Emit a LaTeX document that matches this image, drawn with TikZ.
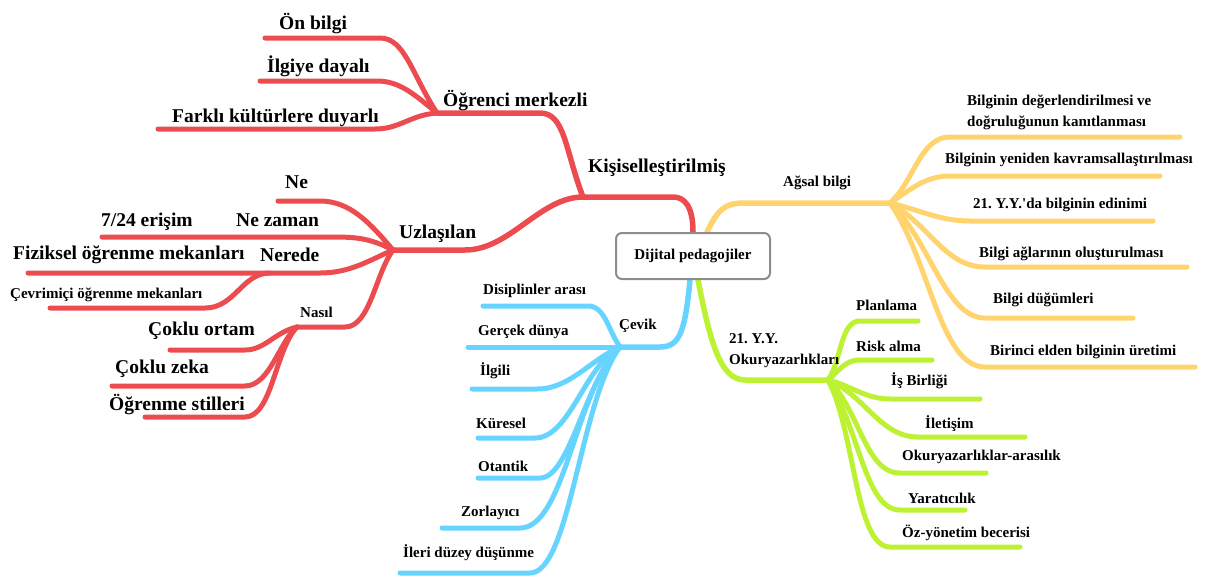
\documentclass[tikz,border=0pt]{standalone}
\usepackage{fontspec}
\setmainfont{Liberation Serif}
\usetikzlibrary{calc,backgrounds}
\definecolor{mred}{RGB}{236,76,80}
\definecolor{morange}{RGB}{255,212,110}
\definecolor{mblue}{RGB}{102,212,255}
\definecolor{mgreen}{RGB}{188,242,50}
\definecolor{mgray}{RGB}{140,140,140}
\frenchspacing
\tikzset{
  lbig/.style={anchor=base west, inner sep=0pt, font=\fontsize{19.5}{22}\selectfont\bfseries},
  lmid/.style={anchor=base west, inner sep=0pt, font=\fontsize{15}{21}\selectfont\bfseries},
  branch/.style={line width=5pt, line cap=round, line join=round},
  trunk/.style={line width=5.5pt},
  rb/.style={branch, draw=mred},
  ob/.style={branch, draw=morange},
  bb/.style={branch, draw=mblue},
  gb/.style={branch, draw=mgreen},
  rootbox/.style={draw=mgray, line width=2pt, fill=white, rounded corners=6pt,
    minimum width=154pt, minimum height=46pt, inner sep=0pt,
    font=\fontsize{15}{18}\selectfont\bfseries},
}
\begin{document}
\begin{tikzpicture}[x=1pt,y=-1pt]
\useasboundingbox (0,0) rectangle (1215,579);
\node[rootbox] (root) at (693,256) {Dijital pedagojiler};

% ---- coordinates ----
% red
\coordinate (k1) at (673,197); \coordinate (J1) at (583,197);
\coordinate (k2) at (540,113); \coordinate (J2) at (437,113);
\coordinate (k3) at (465,250); \coordinate (J3) at (393,250);
\coordinate (k4) at (380,38);  \coordinate (e4) at (265,38);
\coordinate (k5) at (377,81);  \coordinate (e5) at (260,81);
\coordinate (k6) at (375,129); \coordinate (e6) at (158,129);
\coordinate (k7) at (320,201); \coordinate (e7) at (278,201);
\coordinate (k8) at (333,237); \coordinate (e8) at (102,237);
\coordinate (k9) at (320,273); \coordinate (e9) at (28,273);
\coordinate (c10) at (270,273);
\coordinate (k10) at (205,308); \coordinate (e10) at (50,308);
\coordinate (k11) at (345,327); \coordinate (J4) at (297,327);
\coordinate (k12) at (245,350); \coordinate (e12) at (170,350);
\coordinate (k13) at (245,386); \coordinate (e13) at (112,386);
\coordinate (k14) at (245,417); \coordinate (e14) at (145,417);
% blue
\coordinate (k15) at (660,347); \coordinate (J5) at (620,347);
\coordinate (k16) at (588,306); \coordinate (e16) at (483,306);
\coordinate (e17) at (468,347);
\coordinate (k18) at (537,389); \coordinate (e18) at (472,389);
\coordinate (k19) at (535,438); \coordinate (e19) at (478,438);
\coordinate (k20) at (540,478); \coordinate (e20) at (478,478);
\coordinate (k21) at (520,528); \coordinate (e21) at (442,528);
\coordinate (k22) at (530,573); \coordinate (e22) at (400,573);
% orange
\coordinate (k23) at (745,203); \coordinate (J6) at (890,203);
\coordinate (k24) at (950,137); \coordinate (e24) at (1180,137);
\coordinate (k25) at (950,176); \coordinate (e25) at (1160,176);
\coordinate (k26) at (970,221); \coordinate (e26) at (1153,221);
\coordinate (k27) at (985,267); \coordinate (e27) at (1187,267);
\coordinate (k28) at (985,318); \coordinate (e28) at (1133,318);
\coordinate (k29) at (985,367); \coordinate (e29) at (1195,367);
% green
\coordinate (k30) at (745,380); \coordinate (J7) at (828,380);
\coordinate (k31) at (860,321); \coordinate (e31) at (918,321);
\coordinate (k32) at (860,360); \coordinate (e32) at (932,360);
\coordinate (k33) at (890,399); \coordinate (e33) at (980,399);
\coordinate (k34) at (918,437); \coordinate (e34) at (1025,437);
\coordinate (k35) at (900,473); \coordinate (e35) at (986,473);
\coordinate (k36) at (900,510); \coordinate (e36) at (965,510);
\coordinate (k37) at (890,547); \coordinate (e37) at (1020,547);

\begin{scope}[on background layer]
% red
\draw[rb, trunk] (root.north) .. controls +(0,-25) and +(12,0) .. (k1) -- (J1);
\draw[rb, trunk] (J1) .. controls +(-18,-47) and +(25,0) .. (k2) -- (J2);
\draw[rb, trunk] (J1) .. controls +(-43,0) and +(45,0) .. (k3) -- (J3);
\draw[rb] (J2) .. controls +(-25,-38) and +(25,0) .. (k4) -- (e4);
\draw[rb] (J2) .. controls +(-22,-18) and +(23,0) .. (k5) -- (e5);
\draw[rb] (J2) .. controls +(-27,2) and +(25,0) .. (k6) -- (e6);
\draw[rb] (J3) .. controls +(-23,-27) and +(30,0) .. (k7) -- (e7);
\draw[rb] (J3) .. controls +(-23,-12) and +(22,0) .. (k8) -- (e8);
\draw[rb] (J3) .. controls +(-23,10) and +(30,0) .. (k9) -- (e9);
\draw[rb] (c10) .. controls +(-28,0) and +(30,0) .. (k10) -- (e10);
\draw[rb] (J3) .. controls +(-18,25) and +(25,0) .. (k11) -- (J4);
\draw[rb] (J4) .. controls +(-22,5) and +(20,0) .. (k12) -- (e12);
\draw[rb] (J4) .. controls +(-17,13) and +(25,0) .. (k13) -- (e13);
\draw[rb] (J4) .. controls +(-22,23) and +(27,0) .. (k14) -- (e14);
% blue
\draw[bb, trunk] ($(root.south)+(-3,0)$) .. controls +(-5,51) and +(20,0) .. (k15) -- (J5);
\draw[bb] (J5) .. controls +(-12,-17) and +(17,0) .. (k16) -- (e16);
\draw[bb] (J5) -- (e17);
\draw[bb] (J5) .. controls +(-30,13) and +(33,0) .. (k18) -- (e18);
\draw[bb] (J5) .. controls +(-35,18) and +(35,0) .. (k19) -- (e19);
\draw[bb] (J5) .. controls +(-35,33) and +(30,0) .. (k20) -- (e20);
\draw[bb] (J5) .. controls +(-45,43) and +(45,0) .. (k21) -- (e21);
\draw[bb] (J5) .. controls +(-40,53) and +(40,0) .. (k22) -- (e22);
% orange
\draw[ob, trunk] ($(root.north)+(14,0)$) .. controls +(11,-23) and +(-20,0) .. (k23) -- (J6);
\draw[ob] (J6) .. controls +(25,-23) and +(-30,0) .. (k24) -- (e24);
\draw[ob] (J6) .. controls +(20,-13) and +(-25,0) .. (k25) -- (e25);
\draw[ob] (J6) .. controls +(30,7) and +(-30,0) .. (k26) -- (e26);
\draw[ob] (J6) .. controls +(40,22) and +(-40,0) .. (k27) -- (e27);
\draw[ob] (J6) .. controls +(40,37) and +(-40,0) .. (k28) -- (e28);
\draw[ob] (J6) .. controls +(40,57) and +(-45,0) .. (k29) -- (e29);
% green
\draw[gb, trunk] ($(root.south)+(5,0)$) .. controls +(12,61) and +(-25,0) .. (k30) -- (J7);
\draw[gb] (J7) .. controls +(14,-20) and +(-20,0) .. (k31) -- (e31);
\draw[gb] (J7) .. controls +(12,-10) and +(-15,0) .. (k32) -- (e32);
\draw[gb] (J7) .. controls +(22,5) and +(-25,0) .. (k33) -- (e33);
\draw[gb] (J7) .. controls +(37,15) and +(-38,0) .. (k34) -- (e34);
\draw[gb] (J7) .. controls +(32,30) and +(-35,0) .. (k35) -- (e35);
\draw[gb] (J7) .. controls +(32,50) and +(-35,0) .. (k36) -- (e36);
\draw[gb] (J7) .. controls +(27,50) and +(-35,0) .. (k37) -- (e37);
\end{scope}

% ---- labels: red ----
\node[lbig] (onb) at (279,29) {Ön bilgi};
\node[lbig] (ilg) at (267,72) {İlgiye dayalı};
\node[lbig] (fark) at (172,122) {Farklı kültürlere duyarlı};
\node[lbig] (ogm) at (443,106) {Öğrenci merkezli};
\node[lbig] (kis) at (588,172) {Kişiselleştirilmiş};
\node[lbig] (uzl) at (399,238) {Uzlaşılan};
\node[lbig] (ne) at (285,188) {Ne};
\node[lbig] (nez) at (236,226) {Ne zaman};
\node[lbig] (erisim) at (101,226) {7/24 erişim};
\node[lbig] (fiz) at (13,259) {Fiziksel öğrenme mekanları};
\node[lbig] (ner) at (260,261) {Nerede};
\node[lmid] (cev) at (10,298) {Çevrimiçi öğrenme mekanları};
\node[lmid] (nas) at (300,317) {Nasıl};
\node[lbig] (cok1) at (148,335) {Çoklu ortam};
\node[lbig] (cok2) at (115,373) {Çoklu zeka};
\node[lbig] (ogs) at (109,410) {Öğrenme stilleri};
% ---- blue ----
\node[lmid] (dis) at (483,294) {Disiplinler arası};
\node[lmid] (cevik) at (619,329) {Çevik};
\node[lmid] (ger) at (478,335) {Gerçek dünya};
\node[lmid] (ilgili) at (480,375) {İlgili};
\node[lmid] (kur) at (476,428) {Küresel};
\node[lmid] (ota) at (478,471) {Otantik};
\node[lmid] (zor) at (461,516) {Zorlayıcı};
\node[lmid] (ile) at (403,557) {İleri düzey düşünme};
% ---- orange ----
\node[lmid] (ags) at (783,186) {Ağsal bilgi};
\node[lmid] (bdeg) at (967,105) {\begin{tabular}[t]{@{}l@{}}Bilginin değerlendirilmesi ve\\doğruluğunun kanıtlanması\end{tabular}};
\node[lmid] (byen) at (945,163) {Bilginin yeniden kavramsallaştırılması};
\node[lmid] (bedi) at (973,208) {21. Y.Y.\textquotesingle da bilginin edinimi};
\node[lmid] (bagl) at (979,257) {Bilgi ağlarının oluşturulması};
\node[lmid] (bdug) at (993,303) {Bilgi düğümleri};
\node[lmid] (buret) at (990,355) {Birinci elden bilginin üretimi};
% ---- green ----
\node[lmid] (oky) at (729,343) {\begin{tabular}[t]{@{}l@{}}21. Y.Y.\\Okuryazarlıkları\end{tabular}};
\node[lmid] (plan) at (856,310) {Planlama};
\node[lmid] (risk) at (856,351) {Risk alma};
\node[lmid] (isb) at (891,385) {İş Birliği};
\node[lmid] (ilet) at (925,428) {İletişim};
\node[lmid] (okar) at (902,460) {Okuryazarlıklar-arasılık};
\node[lmid] (yar) at (908,503) {Yaratıcılık};
\node[lmid] (ozy) at (902,537) {Öz-yönetim becerisi};
\end{tikzpicture}
\end{document}
